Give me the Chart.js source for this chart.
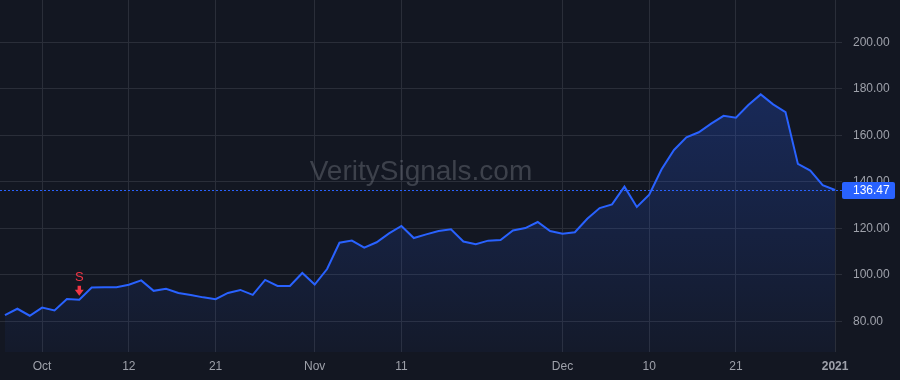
<!DOCTYPE html>
<html>
<head>
<meta charset="utf-8">
<script src="https://cdn.jsdelivr.net/npm/chart.js@4"></script>
<style>
  html, body { margin: 0; padding: 0; background: #131722; }
  #wrap { width: 900px; height: 380px; }
</style>
</head>
<body>
<div id="wrap"><canvas id="chart"></canvas></div>
<script>
/* DATA */
const dates = [
  "2020-09-28", "2020-09-29", "2020-09-30",
  "2020-10-01", "2020-10-02", "2020-10-05", "2020-10-06", "2020-10-07", "2020-10-08", "2020-10-09",
  "2020-10-12", "2020-10-13", "2020-10-14", "2020-10-15", "2020-10-16", "2020-10-19", "2020-10-20",
  "2020-10-21", "2020-10-22", "2020-10-23", "2020-10-26", "2020-10-27", "2020-10-28", "2020-10-29",
  "2020-10-30", "2020-11-02", "2020-11-03", "2020-11-04", "2020-11-05", "2020-11-06", "2020-11-09",
  "2020-11-10", "2020-11-11", "2020-11-12", "2020-11-13", "2020-11-16", "2020-11-17", "2020-11-18",
  "2020-11-19", "2020-11-20", "2020-11-23", "2020-11-24", "2020-11-25", "2020-11-27", "2020-11-30",
  "2020-12-01", "2020-12-02", "2020-12-03", "2020-12-04", "2020-12-07", "2020-12-08", "2020-12-09",
  "2020-12-10", "2020-12-11", "2020-12-14", "2020-12-15", "2020-12-16", "2020-12-17", "2020-12-18",
  "2020-12-21", "2020-12-22", "2020-12-23", "2020-12-24", "2020-12-28", "2020-12-29", "2020-12-30",
  "2020-12-31", "2021-01-04"
];

const prices = [
  82.7, 85.4, 82.4, 85.9, 84.7, 89.6, 89.3, 94.5, 94.6, 94.7,
  95.7, 97.6, 93.1, 94.0, 92.2, 91.3, 90.3, 89.5, 92.2, 93.5,
  91.4, 97.8, 95.2, 95.2, 100.8, 95.8, 102.5, 113.8, 114.7, 111.7,
  114.0, 117.8, 121.0, 115.8, 117.4, 118.8, 119.6, 114.3, 113.2, 114.7,
  115.0, 119.1, 120.1, 122.7, 118.8, 117.7, 118.3, 124.1, 128.7, 130.3,
  137.9, 129.2, 134.5, 145.4, 153.7, 159.1, 161.3, 165.0, 168.4, 167.6,
  173.0, 177.6, 173.3, 170.0, 147.7, 144.8, 138.6, 136.47
];

const lastPrice = 136.47;

// signal markers (index into dates)
const signalIdx = [6];
const signalText = ["S"];

// x tick labels (index into dates)
const xTickIdx = [3, 10, 17, 25, 32, 45, 52, 59, 67];
const xTickLabels = ["Oct", "12", "21", "Nov", "11", "Dec", "10", "21", "2021"];

const yTicks = [80, 100, 120, 140, 160, 180, 200];

/* COLORS */
const BG = "#131722";
const GRID = "#2a2e39";
const TEXT = "#9ea1aa";
const BLUE = "#2962ff";
const RED = "#f23645";

const points = prices.map((p, i) => ({ x: i, y: p }));

/* PLUGINS */
const background = {
  id: "background",
  beforeDraw(chart) {
    const c = chart.ctx;
    c.save();
    c.fillStyle = BG;
    c.fillRect(0, 0, chart.width, chart.height);
    c.restore();
  }
};

const watermark = {
  id: "watermark",
  beforeDatasetsDraw(chart) {
    const c = chart.ctx;
    const a = chart.chartArea;
    c.save();
    c.font = "28px 'Liberation Sans', Arial, sans-serif";
    c.fillStyle = "rgba(120,123,134,0.42)";
    c.textAlign = "center";
    c.textBaseline = "middle";
    c.fillText("VeritySignals.com", (a.left + a.right) / 2, 172);
    c.restore();
  }
};

const overlays = {
  id: "overlays",
  afterDatasetsDraw(chart) {
    const c = chart.ctx;
    const a = chart.chartArea;
    const xs = chart.scales.x;
    const ys = chart.scales.y;

    // last price line + label
    const py = Math.round(ys.getPixelForValue(lastPrice)) + 0.5;
    c.save();
    c.strokeStyle = BLUE;
    c.lineWidth = 1;
    c.setLineDash([2, 2]);
    c.beginPath();
    c.moveTo(a.left, py);
    c.lineTo(a.right, py);
    c.stroke();
    c.setLineDash([]);

    c.fillStyle = BLUE;
    c.beginPath();
    c.roundRect(a.right, py - 8.5, 53, 17, 2);
    c.fill();
    c.fillStyle = "#ffffff";
    c.font = "12px 'Liberation Sans', Arial, sans-serif";
    c.textAlign = "left";
    c.textBaseline = "middle";
    c.fillText(lastPrice.toFixed(2), a.right + 11, py + 0.5);

    // signal markers
    signalIdx.forEach((idx, k) => {
      const x = xs.getPixelForValue(idx);
      const y = ys.getPixelForValue(prices[idx]);
      c.fillStyle = RED;
      c.font = "13px 'Liberation Sans', Arial, sans-serif";
      c.textAlign = "center";
      c.fillText(signalText[k], x, y - 22);
      // arrow
      const tip = y - 4;
      c.beginPath();
      c.moveTo(x - 1.7, tip - 10);
      c.lineTo(x + 1.7, tip - 10);
      c.lineTo(x + 1.7, tip - 6);
      c.lineTo(x + 4.5, tip - 6);
      c.lineTo(x, tip);
      c.lineTo(x - 4.5, tip - 6);
      c.lineTo(x - 1.7, tip - 6);
      c.closePath();
      c.fill();
    });
    c.restore();
  }
};

function noPad(s) {
  s.paddingTop = 0;
  s.paddingBottom = 0;
  s.paddingLeft = 0;
  s.paddingRight = 0;
}

/* CHART */
const ctx = document.getElementById("chart");

new Chart(ctx, {
  type: "line",
  data: {
    labels: dates,
    datasets: [{
      data: points,
      borderColor: BLUE,
      borderWidth: 2,
      pointRadius: 0,
      tension: 0,
      fill: "start",
      backgroundColor: (c) => {
        const area = c.chart.chartArea;
        if (!area) return "rgba(41,98,255,0.1)";
        const g = c.chart.ctx.createLinearGradient(0, area.top, 0, area.bottom);
        g.addColorStop(0, "rgba(41,98,255,0.32)");
        g.addColorStop(1, "rgba(41,98,255,0.04)");
        return g;
      }
    }]
  },
  options: {
    responsive: true,
    maintainAspectRatio: false,
    animation: false,
    layout: { padding: 0 },
    plugins: {
      legend: { display: false },
      tooltip: { enabled: false }
    },
    scales: {
      x: {
        type: "linear",
        min: -0.4,
        max: 67.56,
        grid: { color: GRID, drawTicks: false },
        border: { display: false },
        afterBuildTicks: (s) => { s.ticks = xTickIdx.map(v => ({ value: v })); },
        afterFit: (s) => { s.height = 28; noPad(s); },
        ticks: {
          autoSkip: false,
          maxRotation: 0,
          padding: 7,
          color: TEXT,
          font: (c) => ({
            family: "'Liberation Sans', Arial, sans-serif",
            size: 12,
            weight: c.tick && c.tick.value === 67 ? "bold" : "normal"
          }),
          callback: (v, i) => xTickLabels[i]
        }
      },
      y: {
        position: "right",
        min: 66.8,
        max: 218.2,
        grid: { color: GRID, drawTicks: false },
        border: { display: false },
        afterBuildTicks: (s) => { s.ticks = yTicks.map(v => ({ value: v })); },
        afterFit: (s) => { s.width = 58; noPad(s); },
        ticks: {
          padding: 11,
          color: TEXT,
          font: { family: "'Liberation Sans', Arial, sans-serif", size: 12 },
          callback: (v) => v.toFixed(2)
        }
      }
    }
  },
  plugins: [background, watermark, overlays]
});
</script>
</body>
</html>
